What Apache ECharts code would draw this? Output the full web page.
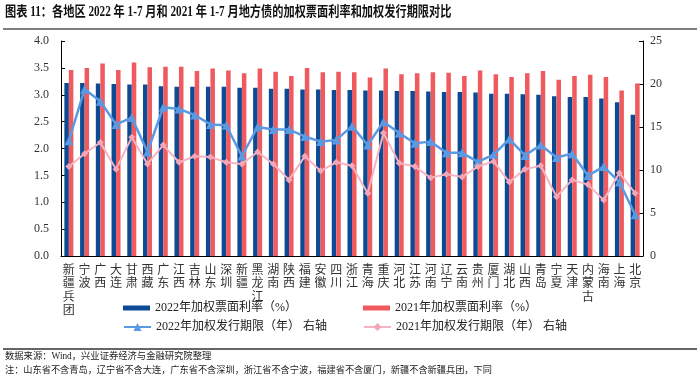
<!DOCTYPE html>
<html>
<head>
<meta charset="utf-8">
<script src="https://cdn.jsdelivr.net/npm/echarts@6/dist/echarts.min.js"></script>
<style>
html,body{margin:0;padding:0;background:#fff;}
#c{width:700px;height:381px;}
</style>
</head>
<body>
<div id="c"></div>
<script>
var categories = ['新疆兵团','宁波','广西','大连','甘肃','西藏','广东','江西','吉林','山东','深圳','新疆','黑龙江','湖南','陕西','福建','安徽','四川','浙江','青海','重庆','河北','江苏','河南','辽宁','云南','贵州','厦门','湖北','山西','青岛','宁夏','天津','内蒙古','海南','上海','北京'];
var rate2022 = [3.22,3.22,3.21,3.20,3.19,3.19,3.16,3.15,3.15,3.15,3.15,3.13,3.13,3.11,3.11,3.10,3.10,3.09,3.09,3.08,3.08,3.07,3.07,3.06,3.05,3.05,3.04,3.02,3.02,3.01,3.00,2.97,2.96,2.96,2.93,2.86,2.63];
var rate2021 = [3.46,3.50,3.58,3.46,3.60,3.51,3.52,3.52,3.44,3.49,3.45,3.40,3.49,3.43,3.35,3.50,3.42,3.43,3.42,3.32,3.49,3.38,3.40,3.42,3.41,3.35,3.45,3.38,3.33,3.40,3.44,3.28,3.35,3.37,3.33,3.08,3.21];
var term2022 = [13.4,19.4,18.0,15.3,16.1,12.1,17.3,17.1,16.4,15.3,15.2,11.6,15.0,14.7,14.7,13.9,13.3,13.5,15.1,12.9,15.6,14.3,13.1,13.3,12.0,12.0,10.95,11.8,13.6,11.7,12.9,11.45,11.9,9.35,10.4,8.6,4.8];
var term2021 = [10.4,11.9,13.2,10.1,13.8,10.7,12.9,10.9,11.6,11.5,10.9,10.7,12.1,10.7,8.85,11.6,9.9,10.9,10.5,7.3,14.3,10.8,10.4,9.1,9.5,9.2,10.4,11.0,8.6,10.1,10.5,6.9,8.85,8.3,6.5,9.65,7.3];
var names = ['2022年加权票面利率（%）','2021年加权票面利率（%）','2022年加权发行期限（年） 右轴','2021年加权发行期限（年） 右轴'];
var titleText = '图表 11：各地区 2022 年 1-7 月和 2021 年 1-7 月地方债的加权票面利率和加权发行期限对比';
var sourceText = '数据来源：Wind，兴业证券经济与金融研究院整理';
var noteText = '注：山东省不含青岛，辽宁省不含大连，广东省不含深圳，浙江省不含宁波，福建省不含厦门，新疆不含新疆兵团，下同';

var FONT = "'Liberation Serif','Noto Sans CJK SC',serif";
var chart = echarts.init(document.getElementById('c'), null, {renderer:'canvas'});
var legendBase = {itemWidth:27, textStyle:{fontFamily:FONT, fontSize:12, color:'#222'}, itemGap:4, selectedMode:false, padding:0};
chart.setOption({
  animation:false,
  backgroundColor:'#fff',
  grid:{left:61, right:57, top:41, bottom:125, containLabel:false},
  graphic:[
    {type:'text', x:5, y:5, scaleX:0.80, style:{text:titleText, font:"bold 14px " + FONT, fill:'#111'}},
    {type:'line', shape:{x1:3,y1:29,x2:697,y2:29}, style:{stroke:'#7f7f7f', lineWidth:2}},
    {type:'line', shape:{x1:3,y1:349,x2:697,y2:349}, style:{stroke:'#333', lineWidth:1.3}},
    {type:'text', left:5, top:352, style:{text:sourceText, font:"9.3px " + FONT, fill:'#222'}},
    {type:'text', left:5, top:366, style:{text:noteText, font:"9.2px " + FONT, fill:'#222'}}
  ],
  legend:[
    Object.assign({}, legendBase, {data:[names[0]], left:123, top:302, itemHeight:5, icon:'rect'}),
    Object.assign({}, legendBase, {data:[names[1]], left:363, top:302, itemHeight:5, icon:'rect'}),
    Object.assign({}, legendBase, {data:[names[2]], left:123, top:321, itemHeight:10}),
    Object.assign({}, legendBase, {data:[names[3]], left:363, top:321, itemHeight:10})
  ],
  xAxis:{
    type:'category', data:categories,
    axisLine:{lineStyle:{color:'#000', width:1}},
    axisTick:{show:false},
    axisLabel:{interval:0, margin:8, fontFamily:FONT, fontSize:12, color:'#333', lineHeight:13.5,
      formatter:function(v){return v.split('').join('\n');}}
  },
  yAxis:[
    {type:'value', min:0, max:4, interval:0.5,
     axisLine:{show:true, lineStyle:{color:'#000'}},
     axisTick:{show:true, inside:true, length:4, lineStyle:{color:'#000'}},
     splitLine:{show:false},
     axisLabel:{margin:12, fontFamily:FONT, fontSize:12, color:'#333', formatter:function(v){return v.toFixed(1);}}},
    {type:'value', min:0, max:25, interval:5, position:'right',
     axisLine:{show:true, lineStyle:{color:'#000'}},
     axisTick:{show:true, inside:true, length:4, lineStyle:{color:'#000'}},
     splitLine:{show:false},
     axisLabel:{margin:7, fontFamily:FONT, fontSize:12, color:'#333'}}
  ],
  series:[
    {name:names[0], type:'bar', data:rate2022, barWidth:4.5, barGap:'0%', itemStyle:{color:'#0D4A94'}},
    {name:names[1], type:'bar', data:rate2021, barWidth:4.5, barGap:'0%', itemStyle:{color:'#EE5A5E'}},
    {name:names[2], type:'line', yAxisIndex:1, data:term2022, symbol:'triangle', symbolSize:9,
     lineStyle:{color:'#5A9AE2', width:2.5}, itemStyle:{color:'#5A9AE2'}, z:3},
    {name:names[3], type:'line', yAxisIndex:1, data:term2021, symbol:'diamond', symbolSize:7,
     lineStyle:{color:'#F6B4C2', width:2}, itemStyle:{color:'#F3A6B8'}, z:4}
  ]
});
</script>
</body>
</html>
